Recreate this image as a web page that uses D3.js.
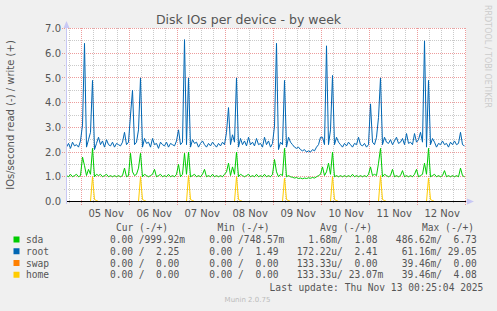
<!DOCTYPE html>
<meta charset="utf-8">
<style>

body {
  margin: 0;
  background: #F0F0F0;
}

text {
  font-family: "DejaVu Sans", sans-serif;
  fill: #555;
}

.mono {
  font-family: "DejaVu Sans Mono", monospace;
  font-size: 9.6px;
  white-space: pre;
}

.series {
  fill: none;
  stroke-width: 1px;
}

</style>
<body>
<script src="https://cdn.jsdelivr.net/npm/d3@7"></script>
<script>

// one value per hour, 200 hours ending Thu Nov 13 00:25:04 2025 (UTC)
var sdaWrite = [
  1.05, 1.00, 1.10, 1.00, 1.05, 1.10, 1.00, 1.05, 1.80, 1.45, 1.05, 1.30, 1.10, 2.15, 1.00, 1.10, 1.05, 1.10, 1.00, 1.05,
  1.10, 1.00, 1.05, 1.00, 1.05, 1.00, 1.05, 1.00, 1.05, 1.35, 1.00, 1.05, 1.95, 1.20, 1.05, 1.10, 1.35, 1.95, 1.00, 1.10,
  1.05, 1.00, 1.05, 1.10, 1.30, 1.00, 1.05, 1.10, 1.00, 1.05, 1.00, 1.10, 1.00, 1.05, 1.00, 1.10, 1.50, 1.00, 1.10, 1.95,
  1.10, 2.00, 1.00, 1.05, 1.10, 1.00, 1.05, 1.00, 1.10, 1.30, 1.00, 1.05, 1.00, 1.10, 1.00, 1.05, 1.00, 1.05, 1.00, 1.10,
  1.20, 1.55, 1.05, 1.40, 1.10, 2.00, 1.00, 1.10, 1.05, 1.00, 1.05, 1.10, 1.00, 1.05, 1.00, 1.10, 1.00, 1.05, 1.00, 1.10,
  1.00, 1.05, 1.00, 1.10, 1.70, 1.20, 1.00, 1.10, 1.05, 2.15, 1.00, 1.05, 1.00, 0.98, 0.95, 0.97, 0.93, 0.95, 0.92, 0.95,
  0.93, 0.96, 0.94, 0.97, 0.95, 1.00, 1.05, 1.10, 1.40, 1.05, 1.20, 1.55, 1.10, 2.00, 1.00, 1.05, 1.00, 1.05, 1.00, 1.05,
  1.00, 1.05, 1.00, 1.10, 1.00, 1.05, 1.00, 1.05, 1.00, 1.05, 1.00, 1.10, 1.40, 1.05, 1.10, 1.05, 1.55, 2.15, 1.00, 1.10,
  1.05, 1.00, 1.05, 1.30, 1.00, 1.05, 1.00, 1.05, 1.25, 1.00, 1.05, 1.00, 1.05, 1.00, 1.10, 1.30, 1.00, 1.05, 1.10, 1.55,
  1.10, 2.15, 1.00, 1.05, 1.10, 1.00, 1.05, 1.00, 1.05, 1.25, 1.00, 1.05, 1.00, 1.05, 1.00, 1.05, 1.00, 1.35, 1.05, 1.00
];

var rootWrite = [
  2.20, 2.35, 2.15, 2.40, 2.25, 2.30, 2.20, 2.45, 3.10, 6.40, 2.20, 2.50, 2.80, 4.90, 2.10, 2.35, 2.60, 2.30, 2.45, 2.20,
  2.50, 2.30, 2.25, 2.40, 2.20, 2.35, 2.30, 2.25, 2.40, 2.80, 2.30, 2.40, 3.50, 4.50, 2.30, 2.40, 2.90, 5.00, 2.20, 2.55,
  2.35, 2.40, 2.20, 2.55, 2.30, 2.35, 2.15, 2.40, 2.30, 2.25, 2.40, 2.20, 2.35, 2.30, 2.25, 2.45, 2.90, 2.30, 2.40, 6.55,
  2.30, 5.00, 2.20, 2.50, 2.35, 2.40, 2.20, 2.35, 2.45, 2.30, 2.20, 2.35, 2.25, 2.40, 2.30, 2.20, 2.35, 2.25, 2.40, 2.30,
  2.80, 3.80, 2.30, 2.70, 2.40, 5.00, 2.20, 2.55, 2.30, 2.45, 2.25, 2.60, 2.30, 2.40, 2.25, 2.55, 2.30, 2.35, 2.20, 2.60,
  2.30, 2.45, 2.20, 2.35, 3.05, 6.40, 2.10, 2.40, 2.30, 4.90, 2.20, 2.60, 2.40, 2.30, 2.20, 2.15, 2.20, 2.10, 2.05, 2.10,
  2.00, 2.05, 2.00, 2.10, 2.05, 2.20, 2.30, 2.60, 2.60, 2.30, 6.30, 2.30, 2.90, 5.10, 2.30, 2.60, 2.40, 2.30, 2.20, 2.35,
  2.25, 2.40, 2.30, 2.20, 2.35, 2.30, 2.60, 2.30, 2.25, 2.35, 2.20, 2.30, 3.95, 2.40, 2.30, 2.60, 3.40, 5.00, 2.30, 2.60,
  2.40, 2.35, 2.50, 2.30, 2.45, 2.60, 2.35, 2.40, 2.55, 2.30, 2.75, 2.35, 2.40, 2.30, 2.75, 2.40, 2.50, 2.80, 2.40, 6.50,
  2.20, 4.90, 2.30, 2.55, 2.40, 2.20, 2.35, 2.30, 2.45, 2.30, 2.35, 2.20, 2.40, 2.30, 2.45, 2.30, 2.35, 2.80, 2.30, 2.25
];

var swapWrite = [
  0, 0, 0, 0, 0, 0, 0, 0, 0, 0, 0, 0, 0, 0, 0, 0, 0, 0, 0, 0,
  0, 0, 0, 0, 0, 0, 0, 0, 0, 0, 0, 0, 0, 0, 0, 0, 0, 0, 0, 0,
  0, 0, 0, 0, 0, 0, 0, 0, 0, 0, 0, 0, 0, 0, 0, 0, 0, 0, 0, 0,
  0, 0, 0, 0, 0, 0, 0, 0, 0, 0, 0, 0, 0, 0, 0, 0, 0, 0, 0, 0,
  0, 0, 0, 0, 0, 0, 0, 0, 0, 0, 0, 0, 0, 0, 0, 0, 0, 0, 0, 0,
  0, 0, 0, 0, 0, 0, 0, 0, 0, 0, 0, 0, 0, 0, 0, 0, 0, 0, 0, 0,
  0, 0, 0, 0, 0, 0, 0, 0, 0, 0, 0, 0, 0, 0, 0, 0, 0, 0, 0, 0,
  0, 0, 0, 0, 0, 0, 0, 0, 0, 0, 0, 0, 0, 0, 0, 0, 0, 0, 0, 0,
  0, 0, 0, 0, 0, 0, 0, 0, 0, 0, 0, 0, 0, 0, 0, 0, 0, 0, 0, 0,
  0, 0, 0, 0, 0, 0, 0, 0, 0, 0, 0, 0, 0, 0, 0, 0, 0, 0, 0, 0
];

var homeWrite = [
  0, 0, 0, 0, 0, 0, 0, 0, 0, 0, 0, 0, 0, 1.00, 0.08, 0.04, 0, 0, 0, 0,
  0, 0, 0, 0, 0, 0, 0, 0, 0, 0, 0, 0, 0, 0, 0, 0, 0, 1.00, 0.08, 0.04,
  0, 0, 0, 0, 0, 0, 0, 0, 0, 0, 0, 0, 0, 0, 0, 0, 0, 0, 0, 0,
  0, 1.05, 0.08, 0.04, 0, 0, 0, 0, 0, 0, 0, 0, 0, 0, 0, 0, 0, 0, 0, 0,
  0, 0, 0, 0, 0, 1.00, 0.08, 0.04, 0, 0, 0, 0, 0, 0, 0, 0, 0, 0, 0, 0,
  0, 0, 0, 0, 0, 0, 0, 0, 0, 0.95, 0.08, 0.04, 0, 0, 0, 0, 0, 0, 0, 0,
  0, 0, 0, 0, 0, 0, 0, 0, 0, 0, 0, 0, 0, 1.00, 0.08, 0.04, 0, 0, 0, 0,
  0, 0, 0, 0, 0, 0, 0, 0, 0, 0, 0, 0, 0, 0, 0, 0, 0, 1.05, 0.08, 0.04,
  0, 0, 0, 0, 0, 0, 0, 0, 0, 0, 0, 0, 0, 0, 0, 0, 0, 0, 0, 0,
  0, 0.95, 0.08, 0.04, 0, 0, 0, 0, 0, 0, 0, 0, 0, 0, 0, 0, 0, 0, 0, 0
];

var names = ["sda", "root", "swap", "home"],
    colors = ["#00CC00", "#0066B3", "#FF8000", "#FFCC00"];

var curRead = ["0.00", "0.00", "0.00", "0.00"],
    curWrite = ["999.92m", "2.25", "0.00", "0.00"],
    minRead = ["0.00", "0.00", "0.00", "0.00"],
    minWrite = ["748.57m", "1.49", "0.00", "0.00"],
    avgRead = ["1.68m", "172.22u", "133.33u", "133.33u"],
    avgWrite = ["1.08", "2.41", "0.00", "23.07m"],
    maxRead = ["486.62m", "61.16m", "39.46m", "39.46m"],
    maxWrite = ["6.73", "29.05", "0.00", "4.08"];

var yTicks = [0, 1, 2, 3, 4, 5, 6, 7];

var w = 497,
    h = 311,
    end = new Date(Date.UTC(2025, 10, 13, 0, 25, 4)),
    start = new Date(+end - 200 * 3600e3);

var x = d3.scaleUtc().domain([start, end]).range([66.5, 466.5]),
    y = d3.scaleLinear().domain([0, 7]).range([201.5, 28.5]);

function px(v) { return Math.round(v - 0.5) + 0.5; }

var svg = d3.select("body").append("svg")
    .attr("width", w)
    .attr("height", h);

svg.append("rect")
    .attr("x", 66)
    .attr("y", 28)
    .attr("width", 400)
    .attr("height", 174)
    .attr("fill", "#fff");

// grid
var minorGrey = "rgba(150,150,150,0.5)",
    majorRed = "rgba(225,90,90,0.6)";

var hMinor = d3.range(0.5, 7, 1),
    vMajor = d3.utcDay.range(start, end),
    vMinor = d3.utcHour.every(6).range(start, end).filter(function(d) { return d.getUTCHours() !== 0; }),
    dayLabels = vMajor.filter(function(d) { return x(d3.utcHour.offset(d, 12)) < 466; });

svg.append("g").selectAll("line")
    .data(hMinor)
  .enter().append("line")
    .attr("x1", 64).attr("x2", 466)
    .attr("y1", function(d) { return px(y(d)); })
    .attr("y2", function(d) { return px(y(d)); })
    .attr("stroke", minorGrey)
    .attr("stroke-dasharray", "1,1");

svg.append("g").selectAll("line")
    .data(vMinor)
  .enter().append("line")
    .attr("y1", 28).attr("y2", 204)
    .attr("x1", function(d) { return px(x(d)); })
    .attr("x2", function(d) { return px(x(d)); })
    .attr("stroke", minorGrey)
    .attr("stroke-dasharray", "1,1");

svg.append("g").selectAll("line")
    .data(yTicks.slice(1))
  .enter().append("line")
    .attr("x1", 62).attr("x2", 466)
    .attr("y1", function(d) { return px(y(d)); })
    .attr("y2", function(d) { return px(y(d)); })
    .attr("stroke", majorRed)
    .attr("stroke-dasharray", "1,1");

svg.append("g").selectAll("line")
    .data(vMajor)
  .enter().append("line")
    .attr("y1", 28).attr("y2", 205)
    .attr("x1", function(d) { return px(x(d)); })
    .attr("x2", function(d) { return px(x(d)); })
    .attr("stroke", majorRed)
    .attr("stroke-dasharray", "1,1");

// series
var line = d3.line()
    .x(function(d, i) { return x(new Date(+start + i * 3600e3)); })
    .y(function(d) { return y(d); });

svg.append("g").selectAll("path")
    .data([sdaWrite, rootWrite, swapWrite, homeWrite])
  .enter().append("path")
    .attr("class", "series")
    .attr("stroke", function(d, i) { return colors[i]; })
    .attr("d", line);

// axes
svg.append("line")
    .attr("x1", 66).attr("x2", 467)
    .attr("y1", 201.5).attr("y2", 201.5)
    .attr("stroke", "#000");

svg.append("line")
    .attr("x1", 66.5).attr("x2", 66.5)
    .attr("y1", 24).attr("y2", 204)
    .attr("stroke", "#c8c8f4");

svg.append("line")
    .attr("x1", 466).attr("x2", 470)
    .attr("y1", 201.5).attr("y2", 201.5)
    .attr("stroke", "#c8c8f4");

svg.append("path")
    .attr("d", "M63.5,28L66.5,21L69.5,28Z")
    .attr("fill", "#c8c8f4");

svg.append("path")
    .attr("d", "M467,198.5L474,201.5L467,204.5Z")
    .attr("fill", "#c8c8f4");

svg.append("g").selectAll("text")
    .data(yTicks)
  .enter().append("text")
    .attr("x", 61)
    .attr("y", function(d) { return y(d) + 3.6; })
    .attr("text-anchor", "end")
    .style("font-size", "10px")
    .text(d3.format(".1f"));

svg.append("g").selectAll("text")
    .data(dayLabels)
  .enter().append("text")
    .attr("x", function(d) { return x(d3.utcHour.offset(d, 12)) + 0.5; })
    .attr("y", 216.5)
    .attr("text-anchor", "middle")
    .style("font-size", "10px")
    .text(d3.utcFormat("%d %b"));

// titles
svg.append("text")
    .attr("x", 248.5)
    .attr("y", 23.5)
    .attr("text-anchor", "middle")
    .style("font-size", "12.5px")
    .text("Disk IOs per device - by week");

svg.append("text")
    .attr("transform", "translate(13.5,115)rotate(-90)")
    .attr("text-anchor", "middle")
    .style("font-size", "10px")
    .text("IOs/second read (-) / write (+)");

svg.append("text")
    .attr("transform", "translate(484.5,5)rotate(90)")
    .style("font-size", "8px")
    .style("fill", "#ccc")
    .text("RRDTOOL / TOBI OETIKER");

// legend
function fmt(s) {
  var u = /[a-z]$/.test(s) ? s.slice(-1) : " ",
      n = u === " " ? s : s.slice(0, -1);
  return n.padStart(6) + u;
}

var columns = [
  {head: "Cur (-/+)", hx: 116, end: 185, read: curRead, write: curWrite},
  {head: "Min (-/+)", hx: 217.5, end: 284.3, read: minRead, write: minWrite},
  {head: "Avg (-/+)", hx: 320, end: 383.3, read: avgRead, write: avgWrite},
  {head: "Max (-/+)", hx: 422, end: 482.5, read: maxRead, write: maxWrite}
];

var legend = svg.append("g");

columns.forEach(function(c) {
  legend.append("text")
      .attr("class", "mono")
      .attr("x", c.hx)
      .attr("y", 231)
      .text(c.head);
});

names.forEach(function(name, i) {
  var by = 243 + i * 11.75;
  legend.append("rect")
      .attr("x", 13.5)
      .attr("y", by - 6.5)
      .attr("width", 6)
      .attr("height", 6)
      .attr("fill", colors[i]);
  legend.append("text")
      .attr("class", "mono")
      .attr("x", 26)
      .attr("y", by)
      .text(name);
  columns.forEach(function(c) {
    legend.append("text")
        .attr("class", "mono")
        .attr("xml:space", "preserve")
        .attr("x", c.end)
        .attr("y", by)
        .attr("text-anchor", "end")
        .text(fmt(c.read[i]) + "/" + fmt(c.write[i]));
  });
});

legend.append("text")
    .attr("class", "mono")
    .attr("x", 483.3)
    .attr("y", 291)
    .attr("text-anchor", "end")
    .text("Last update: Thu Nov 13 00:25:04 2025");

svg.append("text")
    .attr("x", 247.5)
    .attr("y", 302)
    .attr("text-anchor", "middle")
    .style("font-size", "7px")
    .style("fill", "#bbb")
    .text("Munin 2.0.75");

</script>
</body>
